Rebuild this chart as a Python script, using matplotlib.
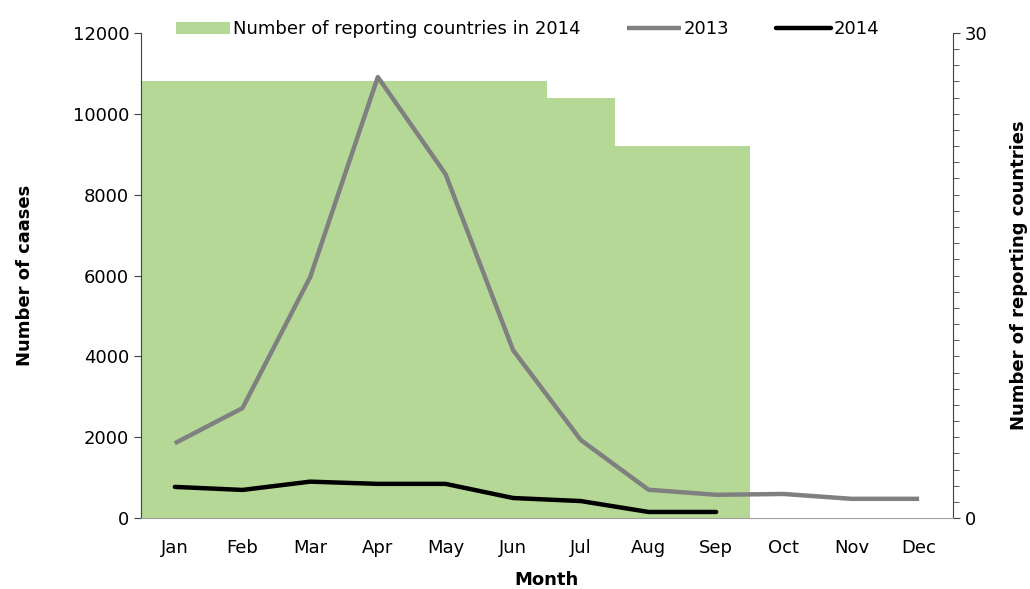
import matplotlib.pyplot as plt
from matplotlib.ticker import MultipleLocator

months = ['Jan', 'Feb', 'Mar', 'Apr', 'May', 'Jun', 'Jul', 'Aug', 'Sep', 'Oct', 'Nov', 'Dec']
cases_2013 = [1850, 2720, 5960, 10910, 8510, 4150, 1930, 700, 575, 595, 475, 475]
cases_2014 = [770, 695, 900, 845, 845, 495, 420, 150, 150]
countries_2014 = [27, 27, 27, 27, 27, 27, 26, 23, 23]

plt.rcParams['font.family'] = ['DejaVu Sans']

fig = plt.figure(figsize=(10.3, 5.89), dpi=100)
ax = fig.add_axes([0.1369, 0.1205, 0.7883, 0.8235])
ax2 = ax.twinx()

# bars go on the right axis, lines on the left axis drawn on top
ax.set_zorder(ax2.get_zorder() + 1)
ax.patch.set_visible(False)

x = list(range(len(months)))
bars = ax2.bar(x[:len(countries_2014)], countries_2014, width=1.0,
               color='#b6d896', edgecolor='none', label='Number of reporting countries in 2014')
l13, = ax.plot(x, cases_2013, color='#808080', lw=3.2, label='2013', solid_capstyle='butt')
l14, = ax.plot(x[:len(cases_2014)], cases_2014, color='black', lw=3.2, label='2014',
               solid_capstyle='round')

ax.set_xlim(-0.5, 11.5)
ax.set_ylim(0, 12000)
ax2.set_ylim(0, 30)
ax.set_yticks(range(0, 12001, 2000))
ax2.set_yticks([0, 30])
ax2.yaxis.set_minor_locator(MultipleLocator(1))

ax.set_xticks(x)
ax.set_xticklabels(months)
ax.tick_params(axis='x', length=0, pad=15, labelsize=13)
ax.tick_params(axis='y', direction='out', length=5, color='#404040', labelsize=13)
ax2.tick_params(axis='y', which='major', direction='out', length=5, color='#404040', labelsize=13)
ax2.tick_params(axis='y', which='minor', direction='out', length=4, color='#404040')

for a in (ax, ax2):
    a.spines['top'].set_visible(False)
ax.spines['right'].set_visible(False)
ax2.spines['left'].set_visible(False)
ax2.spines['bottom'].set_visible(False)
ax.spines['bottom'].set_color('#a0a0a0')
ax.spines['left'].set_color('#404040')
ax2.spines['right'].set_color('#404040')

ax.set_xlabel('Month', fontsize=13, fontweight='bold', labelpad=10)
ax.set_ylabel('Number of caases', fontsize=13, fontweight='bold', labelpad=28)
ax2.set_ylabel('Number of reporting countries', fontsize=13, fontweight='bold', labelpad=16)

fig.legend(handles=[bars, l13, l14], loc='center', bbox_to_anchor=(0.512, 0.95), ncol=3,
           frameon=False, fontsize=13, handlelength=3.0, handletextpad=0.15, columnspacing=2.6)

fig.savefig('out.png', dpi=100)
